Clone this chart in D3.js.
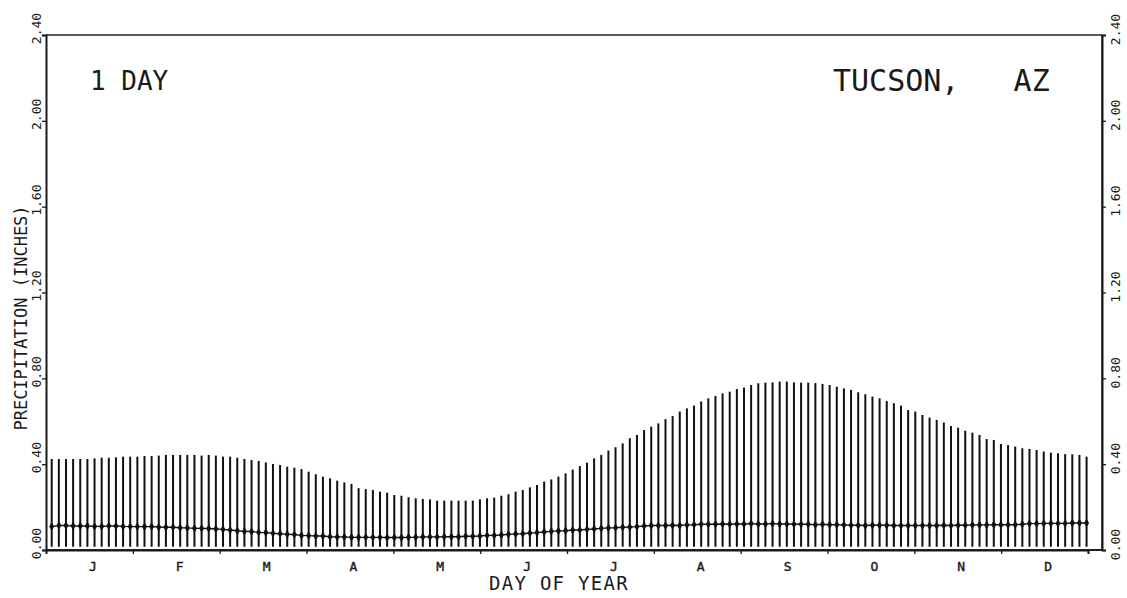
<!DOCTYPE html>
<html>
<head>
<meta charset="utf-8">
<script src="https://cdn.jsdelivr.net/npm/d3@7"></script>
<style>
  body { margin: 0; background: #fff; }
  svg text { font-family: "DejaVu Sans Mono", "Liberation Mono", monospace; fill: #1a1a1a; }
  .frame { fill: none; stroke: #222; }
</style>
</head>
<body>
<div id="chart"></div>
<script>
// upper end of each 2.5-day bar (inches)
var upper = [
  0.424, 0.424, 0.424, 0.424, 0.424, 0.424, 0.427, 0.430, 0.430, 0.432,
  0.435, 0.435, 0.435, 0.438, 0.438, 0.440, 0.443, 0.443, 0.443, 0.443,
  0.443, 0.440, 0.443, 0.440, 0.435, 0.435, 0.430, 0.424, 0.419, 0.415,
  0.408, 0.401, 0.396, 0.388, 0.384, 0.377, 0.365, 0.353, 0.342, 0.334,
  0.323, 0.315, 0.308, 0.288, 0.284, 0.280, 0.272, 0.267, 0.256, 0.253,
  0.246, 0.241, 0.238, 0.236, 0.230, 0.230, 0.230, 0.230, 0.230, 0.230,
  0.236, 0.241, 0.244, 0.253, 0.260, 0.272, 0.280, 0.292, 0.303, 0.319,
  0.329, 0.342, 0.357, 0.375, 0.391, 0.407, 0.427, 0.443, 0.463, 0.479,
  0.497, 0.521, 0.536, 0.559, 0.575, 0.590, 0.610, 0.624, 0.645, 0.660,
  0.673, 0.692, 0.707, 0.718, 0.730, 0.738, 0.750, 0.757, 0.769, 0.777,
  0.780, 0.781, 0.785, 0.785, 0.781, 0.780, 0.780, 0.778, 0.774, 0.769,
  0.761, 0.753, 0.746, 0.735, 0.726, 0.715, 0.707, 0.694, 0.684, 0.673,
  0.652, 0.645, 0.629, 0.617, 0.606, 0.594, 0.578, 0.570, 0.556, 0.547,
  0.536, 0.517, 0.513, 0.494, 0.489, 0.482, 0.474, 0.471, 0.466, 0.459,
  0.454, 0.451, 0.447, 0.446, 0.443, 0.435
]

// mean marker of each bar (inches)
var mean = [
  0.109, 0.114, 0.114, 0.112, 0.112, 0.112, 0.110, 0.110, 0.112, 0.112,
  0.110, 0.109, 0.109, 0.109, 0.109, 0.107, 0.106, 0.106, 0.104, 0.103,
  0.101, 0.101, 0.100, 0.098, 0.096, 0.093, 0.090, 0.087, 0.086, 0.082,
  0.081, 0.078, 0.076, 0.073, 0.072, 0.068, 0.067, 0.065, 0.065, 0.062,
  0.061, 0.061, 0.059, 0.059, 0.059, 0.059, 0.059, 0.058, 0.058, 0.058,
  0.059, 0.059, 0.061, 0.061, 0.061, 0.062, 0.062, 0.062, 0.064, 0.064,
  0.065, 0.068, 0.068, 0.070, 0.073, 0.075, 0.076, 0.079, 0.081, 0.084,
  0.087, 0.089, 0.090, 0.093, 0.093, 0.096, 0.098, 0.101, 0.103, 0.104,
  0.106, 0.107, 0.109, 0.112, 0.114, 0.114, 0.114, 0.115, 0.114, 0.117,
  0.118, 0.120, 0.120, 0.120, 0.121, 0.120, 0.121, 0.121, 0.123, 0.121,
  0.121, 0.123, 0.121, 0.121, 0.120, 0.120, 0.120, 0.118, 0.120, 0.118,
  0.118, 0.117, 0.115, 0.115, 0.114, 0.115, 0.115, 0.115, 0.114, 0.114,
  0.114, 0.114, 0.114, 0.114, 0.114, 0.115, 0.114, 0.115, 0.115, 0.117,
  0.117, 0.117, 0.118, 0.118, 0.118, 0.118, 0.120, 0.123, 0.123, 0.124,
  0.124, 0.124, 0.124, 0.126, 0.126, 0.126
]

var barBase = 0.015
var days = upper.map(function (d, i) { return 2 + i * 2.5 })
var months = ['J', 'F', 'M', 'A', 'M', 'J', 'J', 'A', 'S', 'O', 'N', 'D']
var yTicks = [0, 0.4, 0.8, 1.2, 1.6, 2.0, 2.4]

var W = 1127, H = 598
var margin = { top: 35, right: 25, bottom: 48, left: 46 }
var width = W - margin.left - margin.right
var height = H - margin.top - margin.bottom
var yearWidth = 1042

var svg = d3.select('#chart').append('svg')
  .attr('width', W)
  .attr('height', H)

var g = svg.append('g')
  .attr('transform', 'translate(' + margin.left + ',' + margin.top + ')')

var x = d3.scaleLinear().domain([0, 365]).range([0, yearWidth])
var xMonth = d3.scaleLinear().domain([0, 12]).range([0, yearWidth])
var y = d3.scaleLinear().domain([0, 2.4]).range([height, 0])

// frame
g.append('line').attr('class', 'frame')
  .attr('x1', 0).attr('x2', width).attr('y1', 0).attr('y2', 0)
  .attr('stroke-width', 1.5)
g.append('line').attr('class', 'frame')
  .attr('x1', width).attr('x2', width).attr('y1', 0).attr('y2', height)
  .attr('stroke-width', 1.4)
g.append('line').attr('class', 'frame')
  .attr('x1', 0).attr('x2', width).attr('y1', height).attr('y2', height)
  .attr('stroke-width', 2)

// left axis
var yLeft = d3.axisLeft(y).tickValues(yTicks).tickSize(4).tickFormat(d3.format('.2f'))
g.append('g').call(yLeft).call(styleAxis)
  .selectAll('.tick text')
  .attr('transform', 'rotate(-90)')
  .attr('x', 7).attr('y', -5)
  .attr('dy', 0)
  .style('text-anchor', 'middle')

// right axis
var yRight = d3.axisRight(y).tickValues(yTicks).tickSize(4).tickFormat(d3.format('.2f'))
g.append('g').attr('transform', 'translate(' + width + ',0)')
  .call(yRight).call(styleAxis)
  .selectAll('.tick text')
  .attr('transform', 'rotate(-90)')
  .attr('x', 6).attr('y', 18)
  .attr('dy', 0)
  .style('text-anchor', 'middle')

// month boundaries
g.append('g').attr('transform', 'translate(0,' + height + ')')
  .call(d3.axisBottom(xMonth).tickValues(d3.range(1, 13)).tickSize(4).tickFormat(''))
  .call(styleAxis)

// month letters
g.append('g').attr('transform', 'translate(0,' + height + ')')
  .call(d3.axisBottom(xMonth)
    .tickValues(months.map(function (m, i) { return i + 0.5 }))
    .tickSize(0)
    .tickFormat(function (d, i) { return months[i] }))
  .call(function (a) {
    a.select('.domain').remove()
    a.selectAll('.tick text').attr('y', 12).attr('dx', 3)
      .style('font-size', '13px')
      .attr('stroke', '#1a1a1a').attr('stroke-width', 0.4)
  })

function styleAxis (a) {
  a.select('.domain').attr('stroke', '#1a1a1a').attr('stroke-width', 2)
  a.selectAll('.tick line').attr('stroke', '#1a1a1a').attr('stroke-width', 1.3)
  a.selectAll('.tick text').style('font-size', '13px').attr('fill', '#1a1a1a')
}

// bars
g.append('g').selectAll('line')
  .data(upper)
  .enter().append('line')
  .attr('x1', function (d, i) { return x(days[i]) })
  .attr('x2', function (d, i) { return x(days[i]) })
  .attr('y1', y(barBase))
  .attr('y2', function (d) { return y(d) })
  .attr('stroke', '#111')
  .attr('stroke-width', 2)

// mean line + markers
var meanLine = d3.line()
  .x(function (d, i) { return x(days[i]) })
  .y(function (d) { return y(d) })
g.append('path').datum(mean)
  .attr('d', meanLine)
  .attr('fill', 'none')
  .attr('stroke', '#111')
  .attr('stroke-width', 1.4)
g.append('g').selectAll('path')
  .data(mean)
  .enter().append('path')
  .attr('d', d3.symbol(d3.symbolDiamond).size(22))
  .attr('transform', function (d, i) { return 'translate(' + x(days[i]) + ',' + y(d) + ')' })
  .attr('fill', '#111')

// labels
svg.append('text')
  .attr('transform', 'translate(27,' + 318 + ') rotate(-90)')
  .style('text-anchor', 'middle')
  .style('font-size', '17px')
  .text('PRECIPITATION (INCHES)')

svg.append('text')
  .attr('x', 559).attr('y', 590)
  .style('text-anchor', 'middle')
  .style('font-size', '19px')
  .style('letter-spacing', '1.3px')
  .text('DAY OF YEAR')

svg.append('text')
  .attr('x', 90).attr('y', 90)
  .style('font-size', '26px')
  .style('white-space', 'pre')
  .text('1 DAY')

svg.append('text')
  .attr('x', 833).attr('y', 91)
  .style('font-size', '30px')
  .style('white-space', 'pre')
  .text('TUCSON,   AZ')
</script>
</body>
</html>
